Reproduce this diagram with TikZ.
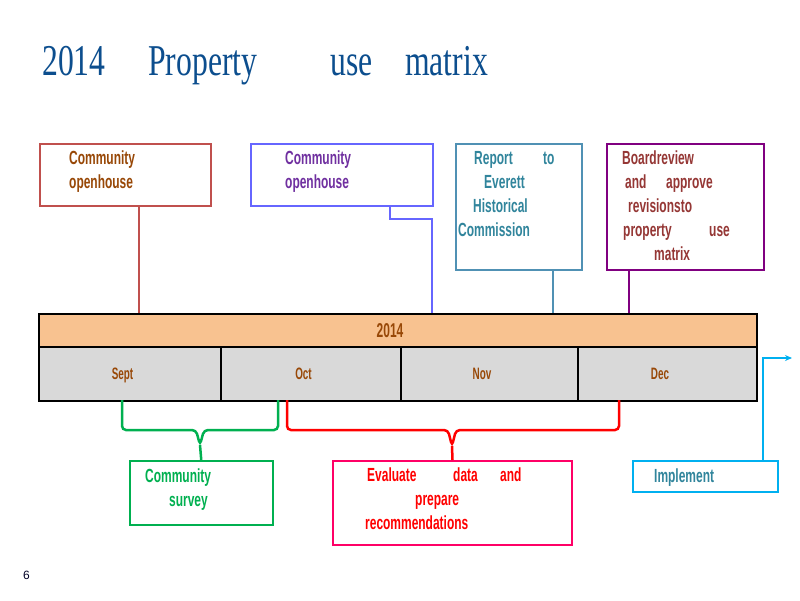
\documentclass[tikz,border=0pt]{standalone}
\usepackage{fontspec}
\usetikzlibrary{arrows.meta}
\newfontfamily\narrowsans[FakeStretch=0.63]{Liberation Sans}
\newfontfamily\barsans[FakeStretch=0.6]{Liberation Sans}
\newfontfamily\narrowserif[FakeStretch=0.72]{Liberation Serif}
\newfontfamily\plainsans{Liberation Sans}
\definecolor{titleblue}{RGB}{12,78,142}
\definecolor{brownred}{RGB}{192,80,77}
\definecolor{txtbrown}{RGB}{152,72,7}
\definecolor{boxblue}{RGB}{102,102,255}
\definecolor{txtpurple}{RGB}{112,48,160}
\definecolor{steel}{RGB}{80,145,180}
\definecolor{txtteal}{RGB}{49,133,156}
\definecolor{boxpurple}{RGB}{128,0,128}
\definecolor{txtmaroon}{RGB}{149,55,53}
\definecolor{peach}{RGB}{248,194,144}
\definecolor{monthgray}{RGB}{217,217,217}
\definecolor{grn}{RGB}{0,176,80}
\definecolor{crimson}{RGB}{255,0,102}
\definecolor{sky}{RGB}{0,176,240}
\begin{document}
\begin{tikzpicture}[x=1pt,y=-1pt,
  box/.style={draw, line width=2pt, inner sep=0pt, anchor=north west},
  lbl/.style={font=\narrowsans\bfseries\fontsize{19}{22}\selectfont, anchor=base west, inner sep=0pt},
  cell/.style={draw=black, line width=2pt, inner sep=0pt, anchor=north west, text depth=0pt,
    text=txtbrown},
  monthcell/.style={cell, fill=monthgray, minimum height=54pt, text height=11.7pt,
    font=\barsans\bfseries\fontsize{16.5}{18}\selectfont},
  conn/.style={line width=2.5pt},
  brace/.style={line width=2.5pt, rounded corners=4pt}
]
\useasboundingbox[fill=white] (0,0) rectangle (800,600);

% title
\node[anchor=base west, inner sep=0pt, text=titleblue,
  font=\narrowserif\fontsize{44}{50}\selectfont] (title) at (42,75)
  {\makebox[106pt][l]{2014}\makebox[182pt][l]{Property}\makebox[75pt][l]{use}matrix};

% timeline bar
\node[cell, fill=peach, minimum width=718pt, minimum height=33pt, text height=14.3pt,
  font=\barsans\bfseries\fontsize{20}{22}\selectfont] (yr) at (38,313) {2014\kern16pt};
\node[monthcell, minimum width=182pt] (sep) at (38,346) {Sept\kern15pt};
\node[monthcell, minimum width=180pt] (oct) at (220,346) {Oct\kern15pt};
\node[monthcell, minimum width=177pt] (nov) at (400,346) {Nov\kern15pt};
\node[monthcell, minimum width=179pt] (dec) at (577,346) {Dec\kern15pt};

% top boxes
\node[box, draw=brownred, minimum width=171pt, minimum height=62pt] (b1) at (39,143) {};
\node[lbl, text=txtbrown] (b1a) at (69,164) {Community};
\node[lbl, text=txtbrown] (b1b) at (69,188) {openhouse};

\node[box, draw=boxblue, minimum width=182pt, minimum height=62pt] (b2) at (250,143) {};
\node[lbl, text=txtpurple] (b2a) at (285,164) {Community};
\node[lbl, text=txtpurple] (b2b) at (285,188) {openhouse};

\node[box, draw=steel, minimum width=126pt, minimum height=126pt] (b3) at (455,143) {};
\node[lbl, text=txtteal] (b3a) at (474,164) {\makebox[69pt][l]{Report}to};
\node[lbl, text=txtteal] (b3b) at (484,188) {Everett};
\node[lbl, text=txtteal] (b3c) at (473,212) {Historical};
\node[lbl, text=txtteal] (b3d) at (458,236) {Commission};

\node[box, draw=boxpurple, minimum width=157pt, minimum height=126pt] (b4) at (606,143) {};
\node[lbl, text=txtmaroon] (b4a) at (622,164) {Boardreview};
\node[lbl, text=txtmaroon] (b4b) at (625,188) {\makebox[41pt][l]{and}approve};
\node[lbl, text=txtmaroon] (b4c) at (628,212) {revisionsto};
\node[lbl, text=txtmaroon] (b4d) at (623,236) {\makebox[86pt][l]{property}use};
\node[lbl, text=txtmaroon] (b4e) at (654,260) {matrix};

% connectors top
\coordinate (p1) at (139,313);
\coordinate (p2s) at (390,219);
\coordinate (p2) at (432,313);
\coordinate (p3) at (553,313);
\coordinate (p4) at (629,313);
\draw[conn, draw=brownred] (p1 |- b1.south) -- (p1);
\draw[line width=2.2pt, draw=boxblue] (p2s |- b2.south) -- (p2s) -| (p2);
\draw[conn, draw=steel] (p3 |- b3.south) -- (p3);
\draw[conn, draw=boxpurple] (p4 |- b4.south) -- (p4);

% bottom boxes
\node[box, draw=grn, line width=1.5pt, minimum width=143pt, minimum height=64pt] (g) at (129,460) {};
\node[lbl, text=grn] (ga) at (145,482) {Community};
\node[lbl, text=grn] (gb) at (169,506) {survey};

\node[box, draw=crimson, minimum width=239pt, minimum height=84pt] (r) at (332,460) {};
\node[lbl, text=red] (ra) at (367,481) {\makebox[86pt][l]{Evaluate}\makebox[47pt][l]{data}and};
\node[lbl, text=red] (rb) at (415,505) {prepare};
\node[lbl, text=red] (rc) at (365,529) {recommendations};

\node[box, draw=sky, minimum width=145pt, minimum height=31pt] (im) at (632,460) {};
\node[lbl, text=txtteal] (ima) at (654,482) {Implement};

% braces
\coordinate (gt) at (200,445);
\draw[brace, draw=grn] (122,400) -- (122,430) -- (196,430) -- (gt) -- (204,430) -- (278,430) -- (278,400);
\draw[conn, draw=grn] (gt) -- (g.north);
\coordinate (rt) at (452,446);
\draw[brace, draw=red] (287,400) -- (287,430) -- (448,430) -- (rt) -- (456,430) -- (619,430) -- (619,400);
\draw[conn, draw=red] (rt) -- (r.north);

% implement arrow
\coordinate (ia) at (763,358);
\coordinate (ib) at (792,358);
\draw[line width=1.5pt, draw=sky, -{Stealth[length=7pt,width=6pt]}] (ia |- im.north) -- (ia) -- (ib);

% page number
\node[anchor=base west, inner sep=0pt, text=black!85!blue, font=\plainsans\fontsize{12}{14}\selectfont] (pg) at (23,579) {6};
\end{tikzpicture}
\end{document}
